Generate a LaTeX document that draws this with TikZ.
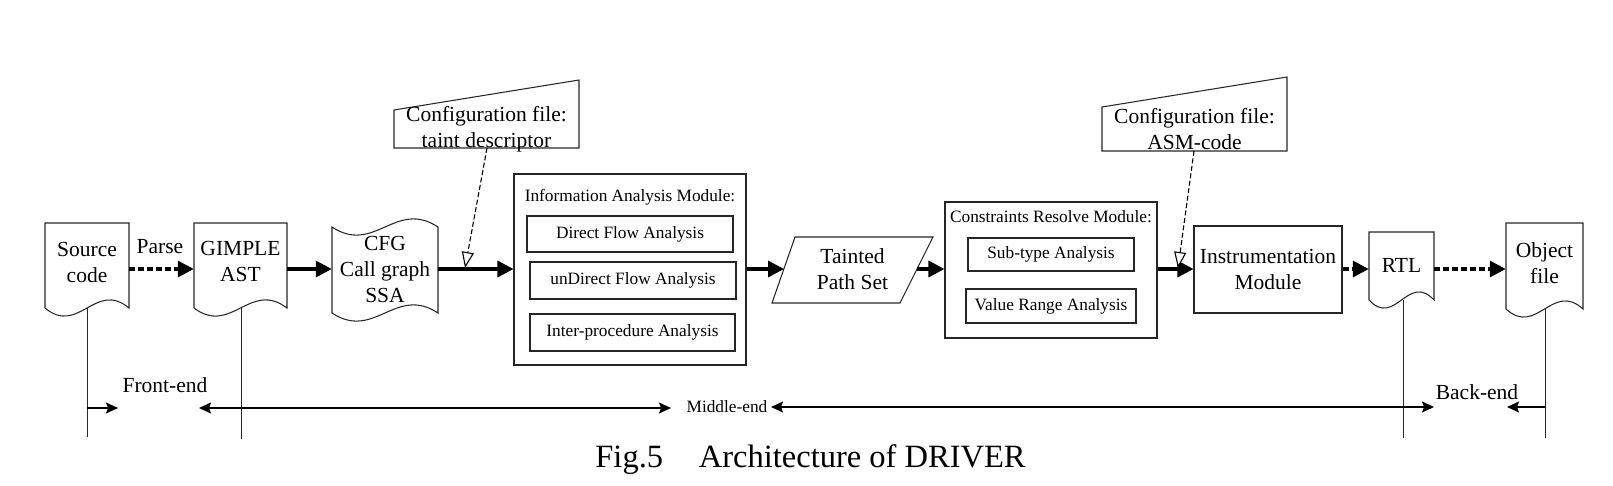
\documentclass[tikz,border=0pt]{standalone}
\usepackage{fontspec}
\setmainfont{Liberation Serif}
\usetikzlibrary{arrows.meta,calc}
\newcommand\docoutline[4]{%
  \draw[outl] (#1,#4) -- (#1,#2) -- (#3,#2) -- (#3,#4)
    .. controls ({0.4*#1+0.6*#3},{#4-28}) and ({0.6*#1+0.4*#3},{#4+28}) .. (#1,#4) -- cycle;}
\newcommand\tapeoutline[4]{%
  \draw[outl] (#1,#2) .. controls ({0.6*#1+0.4*#3},{#2+28}) and ({0.4*#1+0.6*#3},{#2-28}) .. (#3,#2)
    -- (#3,#4) .. controls ({0.4*#1+0.6*#3},{#4-28}) and ({0.6*#1+0.4*#3},{#4+28}) .. (#1,#4) -- cycle;}
\begin{document}
\begin{tikzpicture}[x=1pt,y=-1pt,
  outl/.style={draw=black!85, line width=1.05pt},
  bigtxt/.style={font=\fontsize{21.5}{26}\selectfont, align=center, inner sep=0pt},
  smalltxt/.style={font=\fontsize{17.3}{21}\selectfont, align=center, inner sep=0pt},
  flow/.style={line width=3.3pt, -{Triangle[length=16pt,width=16pt]}},
  dflow/.style={flow, dash pattern=on 6pt off 3pt},
  cfgarrow/.style={line width=1.1pt, dash pattern=on 5pt off 2.5pt, -{Triangle[open,length=16pt,width=12pt,fill=white]}},
  phase/.style={line width=1.4pt, {Stealth[length=12pt,width=11pt,inset=2pt]}-{Stealth[length=12pt,width=11pt,inset=2pt]}},
  phaseone/.style={line width=1.4pt, -{Stealth[length=12pt,width=11pt,inset=2pt]}},
  vline/.style={draw=black!85, line width=1pt}
]
\useasboundingbox (0,0) rectangle (1613,485);
\coordinate (mainy) at (0,269);

% ---- shapes ----
\docoutline{45}{223}{129}{308}
\docoutline{194}{223}{287}{308}
\tapeoutline{332}{227}{438}{313}
\draw[outl] (394,148) -- (394,110) -- (579,80) -- (579,148) -- cycle;
\draw[outl] (795,237) -- (933,237) -- (900,303) -- (772,303) -- cycle;
\draw[outl] (1102,151) -- (1102,107) -- (1287,77) -- (1287,151) -- cycle;
\docoutline{1369}{232}{1434}{300}
\docoutline{1506}{223}{1583}{309}

% ---- text nodes ----
\node[bigtxt, minimum width=84] (src) at (87,262) {Source\\code};
\node[bigtxt, minimum width=93] (gim) at (240.5,261.5) {GIMPLE\\AST};
\node[bigtxt, minimum width=106] (cfg) at (385,269) {CFG\\Call graph\\SSA};
\node[bigtxt, minimum width=185] (conf1) at (486.5,129.5) {Configuration file:\\taint descriptor};
\node[bigtxt] (parse) at (160,247) {Parse};

\node[outl, minimum width=232, minimum height=191, inner sep=0pt] (info) at (630,269.5) {};
\node[smalltxt] (infot) at (630,197) {Information Analysis Module:};
\node[outl, smalltxt, minimum width=206, minimum height=36] (dfa) at (630,234) {Direct Flow Analysis};
\node[outl, smalltxt, minimum width=206, minimum height=37] (ufa) at (633,280.5) {unDirect Flow Analysis};
\node[outl, smalltxt, minimum width=205, minimum height=37] (ipa) at (632.5,332.5) {Inter-procedure Analysis};

\node[bigtxt, minimum width=161] (tps) at (852.5,269.5) {Tainted\\Path Set};
\coordinate (tpsL) at (784,269);
\coordinate (tpsR) at (917,269);

\node[outl, minimum width=212, minimum height=136, inner sep=0pt] (crm) at (1051,270) {};
\node[smalltxt] (crmt) at (1051,217) {Constraints Resolve Module:};
\node[outl, smalltxt, minimum width=166, minimum height=33] (sta) at (1051,254.5) {Sub-type Analysis};
\node[outl, smalltxt, minimum width=170, minimum height=34] (vra) at (1051,306) {Value Range Analysis};

\node[outl, bigtxt, minimum width=148, minimum height=87] (ins) at (1268,269.5) {Instrumentation\\Module};
\node[bigtxt, minimum width=185] (conf2) at (1194.5,129) {Configuration file:\\ASM-code};
\node[bigtxt, minimum width=65] (rtl) at (1401.5,265) {RTL};
\node[bigtxt, minimum width=77] (obj) at (1544.5,263) {Object\\file};

% ---- main flow ----
\draw[dflow] (src.east |- mainy) -- (gim.west |- mainy);
\draw[flow] (gim.east |- mainy) -- (cfg.west |- mainy);
\draw[flow] (cfg.east |- mainy) -- (info.west |- mainy);
\draw[flow] (info.east |- mainy) -- (tpsL);
\draw[flow] (tpsR) -- (crm.west |- mainy);
\draw[flow] (crm.east |- mainy) -- (ins.west |- mainy);
\draw[dflow] (ins.east |- mainy) -- (rtl.west |- mainy);
\draw[dflow] (rtl.east |- mainy) -- (obj.west |- mainy);

% ---- configuration arrows ----
\coordinate (c1s) at (487,148);
\coordinate (c1t) at (465,268);
\coordinate (c2s) at (1194,151);
\coordinate (c2t) at (1178,268);
\draw[cfgarrow] (c1s) -- (c1t);
\draw[cfgarrow] (c2s) -- (c2t);

% ---- phase lines ----
\coordinate (srcb) at (87,308);  \coordinate (srce) at (87,437);
\coordinate (gimb) at (241,308); \coordinate (gime) at (241,439);
\coordinate (rtlb) at (1403,300); \coordinate (rtle) at (1403,438);
\coordinate (objb) at (1545,309); \coordinate (obje) at (1545,438);
\draw[vline] (srcb) -- (srce);
\draw[vline] (gimb) -- (gime);
\draw[vline] (rtlb) -- (rtle);
\draw[vline] (objb) -- (obje);

\node[bigtxt] (fe) at (165,385) {Front-end};
\node[smalltxt] (me) at (727,407) {Middle-end};
\node[bigtxt] (be) at (1477,392) {Back-end};

\coordinate (fa1) at (87,408);  \coordinate (fa2) at (118,408);
\coordinate (ma1) at (199,408); \coordinate (ma2) at (671,408);
\coordinate (mb1) at (771,407); \coordinate (mb2) at (1434,407);
\coordinate (ba1) at (1545,407); \coordinate (ba2) at (1507,407);
\draw[phaseone] (fa1) -- (fa2);
\draw[phase] (ma1) -- (ma2);
\draw[phase] (mb1) -- (mb2);
\draw[phaseone] (ba1) -- (ba2);

\node[font=\fontsize{32.5}{39}\selectfont, inner sep=0pt] (cap) at (810.5,460) {Fig.5\hspace{1.1em}Architecture of DRIVER};
\end{tikzpicture}
\end{document}
